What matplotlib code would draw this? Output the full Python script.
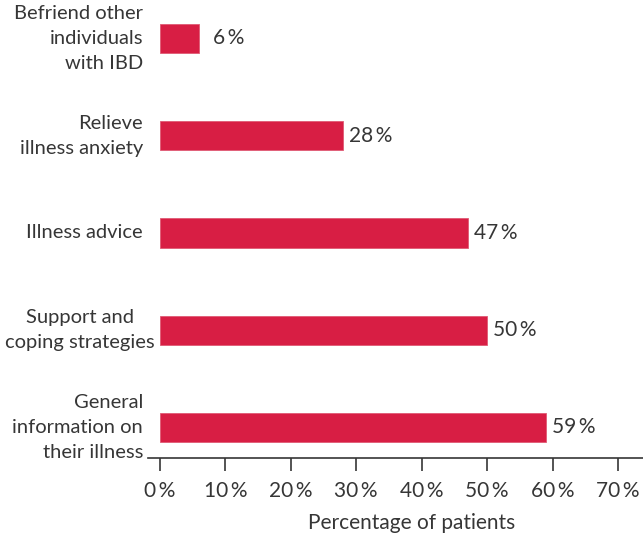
import numpy as np
import matplotlib.pyplot as plt

plt.rcParams['font.family'] = ['Lato', 'DejaVu Sans']

categories = ["General\ninformation on\ntheir illness",
              "Support and\ncoping strategies",
              "Illness advice",
              "Relieve\nillness anxiety",
              "Befriend other\nindividuals\nwith IBD"]
values = [59, 50, 47, 28, 6]
xticks = [0, 10, 20, 30, 40, 50, 60, 70]

bar_color = "#D81E44"
text_color = "#363636"

fig = plt.figure(figsize=(6.43, 5.35), dpi=100)
ax = fig.add_axes([148/643, 77/535, 495/643, 448/535])

y = np.arange(len(categories))
ax.barh(y, values, height=0.30, color=bar_color, edgecolor="#E05A74", linewidth=0.6)

for yi, v in zip(y, values):
    ax.annotate(f"{v}\u2009%", xy=(max(v, 7.2), yi), xytext=(4.5, 0),
                textcoords="offset points", va="center", ha="left",
                fontsize=15, color=text_color)

# category labels, right aligned left of the bars
for yi, lab in zip(y, categories):
    wide = "strategies" in lab
    ax.annotate(lab, xy=(0, yi), xycoords=('axes fraction', 'data'),
                xytext=(4.6 if wide else -3.6, 0), textcoords="offset points",
                ha="right", va="center", multialignment="center" if wide else "right",
                fontsize=14.5, color=text_color, linespacing=1.55)

ax.set_xlim(-1.8, 73.8)
ax.set_ylim(-0.314, 4.293)
ax.set_xticks(xticks)
ax.set_xticklabels([f"{t}\u2009%" for t in xticks], fontsize=15, color=text_color)
ax.set_yticks([])
ax.tick_params(axis='x', length=9.5, width=1.2, color=text_color, pad=7)

for s in ['top', 'right', 'left']:
    ax.spines[s].set_visible(False)
ax.spines['bottom'].set_color(text_color)
ax.spines['bottom'].set_linewidth(1.2)

ax.set_xlabel("Percentage of patients", fontsize=15, color=text_color)
ax.xaxis.set_label_coords(0.533, -0.122)

plt.savefig("out.png", dpi=100)
